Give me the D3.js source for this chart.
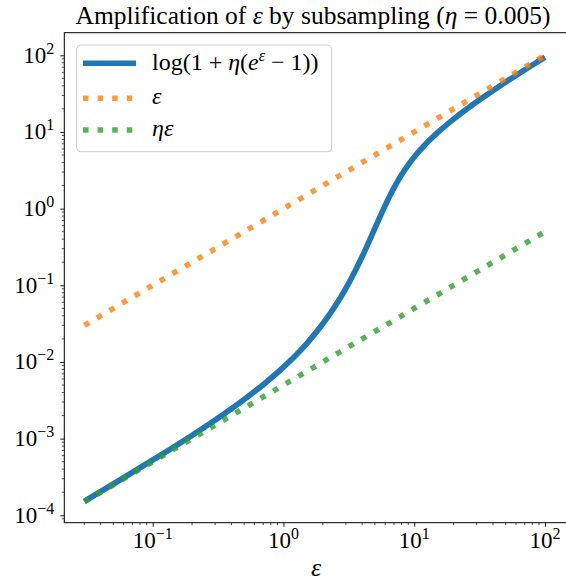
<!DOCTYPE html>
<html>
<head>
  <style>
    body { margin: 0; background: #ffffff; }
    svg { display: block; }
  </style>
</head>
<body>
  <div id="chart"></div>

  <script src="https://d3js.org/d3.v7.min.js"></script>
  <script>
    // epsilon values (x) shared by the three curves
    var eps = [0.03, 0.05, 0.1, 0.2, 0.3, 0.5, 0.7, 1, 1.5, 2, 2.5, 3, 3.5, 4, 4.5,
               5, 5.5, 6, 7, 8, 9, 10, 12, 15, 20, 25, 30, 40, 50, 70, 100];
    // log(1 + eta (e^eps - 1))
    var amplified = [1.5226e-4, 2.5632e-4, 5.2571e-4, 1.1064e-3, 1.7478e-3, 3.2384e-3,
                     5.0560e-3, 8.5547e-3, 0.017259, 0.031446, 0.054406, 0.091145,
                     0.148918, 0.237441, 0.368166, 0.552197, 0.796815, 1.10265,
                     1.86836, 2.76631, 3.72594, 4.71068, 6.70292, 9.70174, 14.7017,
                     19.7017, 24.7017, 34.7017, 44.7017, 64.7017, 94.7017];
    // orange: eps itself
    var plain = [0.03, 0.05, 0.1, 0.2, 0.3, 0.5, 0.7, 1, 1.5, 2, 2.5, 3, 3.5, 4, 4.5,
                 5, 5.5, 6, 7, 8, 9, 10, 12, 15, 20, 25, 30, 40, 50, 70, 100];
    // green: eta * eps
    var scaled = [1.5e-4, 2.5e-4, 5e-4, 1e-3, 1.5e-3, 2.5e-3, 3.5e-3, 5e-3, 7.5e-3, 0.01,
                  0.0125, 0.015, 0.0175, 0.02, 0.0225, 0.025, 0.0275, 0.03, 0.035, 0.04,
                  0.045, 0.05, 0.06, 0.075, 0.1, 0.125, 0.15, 0.2, 0.25, 0.35, 0.5];

    var xTicks = [0.1, 1, 10, 100];
    var xTickExp = ["\u22121", "0", "1", "2"];
    var yTicks = [1e-4, 1e-3, 1e-2, 1e-1, 1, 10, 100];
    var yTickExp = ["\u22124", "\u22123", "\u22122", "\u22121", "0", "1", "2"];

    var seriesNames = ["amplified", "plain", "scaled"];
    var seriesColors = ["#1f77b4", "#ff7f0e", "#2ca02c"];

    var width = 566, height = 581;
    var plotLeft = 64.3, plotRight = 568, plotTop = 32.7, plotBottom = 522.7;

    var svg = d3.select("#chart").append("svg")
      .attr("width", width)
      .attr("height", height);

    function txt(parent) {
      return parent.append("text").attr("font-family", "Liberation Serif");
    }

    // log scales, pinned to where the decades sit in the picture
    var x = d3.scaleLog().domain([0.1, 100]).range([152.7, 545]);
    var y = d3.scaleLog().domain([1e-4, 100]).range([515.3, 55.3]);

    svg.append("clipPath").attr("id", "clip")
      .append("rect")
      .attr("x", plotLeft).attr("y", plotTop)
      .attr("width", plotRight - plotLeft).attr("height", plotBottom - plotTop);

    var plot = svg.append("g").attr("clip-path", "url(#clip)");

    function lineFor(values) {
      return d3.line()
        .x(function(d, i) { return x(eps[i]); })
        .y(function(d) { return y(d); })
        .curve(d3.curveMonotoneX)(values);
    }

    plot.append("path")
      .attr("d", lineFor(amplified))
      .attr("fill", "none")
      .attr("stroke", seriesColors[0])
      .attr("stroke-width", 5.7);

    plot.append("path")
      .attr("d", lineFor(plain))
      .attr("fill", "none")
      .attr("stroke", seriesColors[1])
      .attr("stroke-opacity", 0.8)
      .attr("stroke-width", 5.5)
      .attr("stroke-dasharray", "5.5,9.1");

    plot.append("path")
      .attr("d", lineFor(scaled))
      .attr("fill", "none")
      .attr("stroke", seriesColors[2])
      .attr("stroke-opacity", 0.8)
      .attr("stroke-width", 5.5)
      .attr("stroke-dasharray", "5.5,9.1");

    // axes
    var xAxis = d3.axisBottom(x).tickValues(xTicks).tickSize(4).tickFormat("");
    var gx = svg.append("g").attr("transform", "translate(0," + plotBottom + ")").call(xAxis);
    var xMinor = [];
    [0.01, 0.1, 1, 10, 100].forEach(function(b) {
      for (var k = 2; k <= 9; k++) xMinor.push(b * k);
    });
    gx.selectAll(".minor").data(xMinor.filter(function(v) {
        return x(v) > plotLeft && x(v) < plotRight;
      }))
      .enter().append("line")
      .attr("class", "minor")
      .attr("x1", function(d) { return x(d); }).attr("x2", function(d) { return x(d); })
      .attr("y1", 0).attr("y2", 2.5)
      .attr("stroke", "#000").attr("stroke-width", 0.7);
    gx.select(".domain").remove();
    gx.selectAll(".tick line").attr("stroke-width", 0.9);

    var yAxis = d3.axisLeft(y).tickValues(yTicks).tickSize(4).tickFormat("");
    var gy = svg.append("g").attr("transform", "translate(" + plotLeft + ",0)").call(yAxis);
    var yMinor = [];
    [1e-5, 1e-4, 1e-3, 1e-2, 1e-1, 1, 10, 100].forEach(function(b) {
      for (var k = 2; k <= 9; k++) yMinor.push(b * k);
    });
    gy.selectAll(".minor").data(yMinor.filter(function(v) {
        return y(v) > plotTop && y(v) < plotBottom;
      }))
      .enter().append("line")
      .attr("class", "minor")
      .attr("y1", function(d) { return y(d); }).attr("y2", function(d) { return y(d); })
      .attr("x1", 0).attr("x2", -2.5)
      .attr("stroke", "#000").attr("stroke-width", 0.7);
    gy.select(".domain").remove();
    gy.selectAll(".tick line").attr("stroke-width", 0.9);

    // tick labels as 10^k
    xTicks.forEach(function(v, i) {
      var t = txt(svg)
        .attr("x", x(v)).attr("y", plotBottom + 25)
        .attr("text-anchor", "middle")
        .attr("font-size", 23);
      t.append("tspan").text("10");
      t.append("tspan").attr("dy", -9).attr("font-size", 16).text(xTickExp[i]);
    });
    yTicks.forEach(function(v, i) {
      var t = txt(svg)
        .attr("x", plotLeft - 10).attr("y", y(v) + 7.5)
        .attr("text-anchor", "end")
        .attr("font-size", 23);
      t.append("tspan").text("10");
      t.append("tspan").attr("dy", -9).attr("font-size", 16).text(yTickExp[i]);
    });

    // frame
    svg.append("rect")
      .attr("x", plotLeft).attr("y", plotTop)
      .attr("width", plotRight - plotLeft).attr("height", plotBottom - plotTop)
      .attr("fill", "none").attr("stroke", "#000").attr("stroke-width", 1);

    // title
    var title = txt(svg)
      .attr("x", 313).attr("y", 24)
      .attr("text-anchor", "middle")
      .attr("font-size", 25.5);
    title.append("tspan").text("Amplification of ");
    title.append("tspan").attr("font-style", "italic").text("\u03b5");
    title.append("tspan").text(" by subsampling (");
    title.append("tspan").attr("font-style", "italic").text("\u03b7");
    title.append("tspan").text(" = 0.005)");

    // x label
    txt(svg)
      .attr("x", 316).attr("y", 576)
      .attr("text-anchor", "middle")
      .attr("font-style", "italic")
      .attr("font-size", 26)
      .text("\u03b5");

    // legend
    var legend = svg.append("g");
    legend.append("rect")
      .attr("x", 76.7).attr("y", 45)
      .attr("width", 255).attr("height", 106.7)
      .attr("rx", 4).attr("ry", 4)
      .attr("fill", "#ffffff").attr("fill-opacity", 0.8)
      .attr("stroke", "#cccccc").attr("stroke-width", 1);

    var rowsY = [63.3, 98.3, 130];
    seriesNames.forEach(function(name, i) {
      var ln = legend.append("line")
        .attr("x1", 83).attr("x2", 136)
        .attr("y1", rowsY[i]).attr("y2", rowsY[i])
        .attr("stroke", seriesColors[i])
        .attr("stroke-width", 5.5);
      if (i > 0) ln.attr("stroke-opacity", 0.8).attr("stroke-dasharray", "5.5,9.1");
    });

    var l1 = txt(legend).attr("x", 152).attr("y", rowsY[0] + 7).attr("font-size", 24);
    l1.append("tspan").text("log(1 + ");
    l1.append("tspan").attr("font-style", "italic").text("\u03b7");
    l1.append("tspan").text("(");
    l1.append("tspan").attr("font-style", "italic").text("e");
    l1.append("tspan").attr("font-style", "italic").attr("dy", -9).attr("font-size", 16).text("\u03b5");
    l1.append("tspan").attr("dy", 9).text(" \u2212 1))");

    txt(legend).attr("x", 152).attr("y", rowsY[1] + 6)
      .attr("font-style", "italic").attr("font-size", 24).text("\u03b5");
    txt(legend).attr("x", 152).attr("y", rowsY[2] + 6)
      .attr("font-style", "italic").attr("font-size", 24).text("\u03b7\u03b5");
  </script>
</body>
</html>
